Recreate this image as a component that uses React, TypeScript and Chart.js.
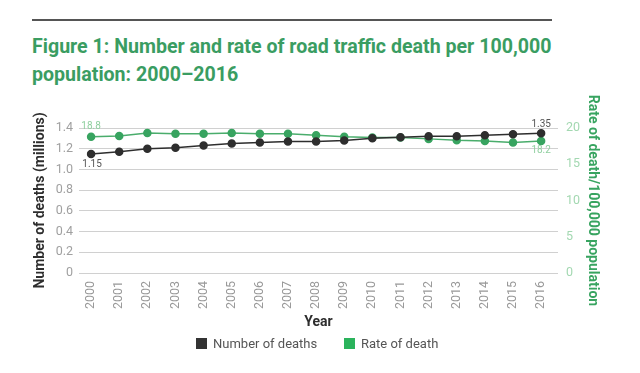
import React, { useEffect, useRef } from "react";
import { Chart, registerables } from "chart.js";

Chart.register(...registerables);

const years = [2000, 2001, 2002, 2003, 2004, 2005, 2006, 2007, 2008, 2009, 2010, 2011, 2012, 2013, 2014, 2015, 2016];
const deaths = [1.15, 1.17, 1.2, 1.21, 1.23, 1.25, 1.26, 1.27, 1.27, 1.28, 1.3, 1.31, 1.32, 1.32, 1.33, 1.34, 1.35];
const rates = [18.8, 18.9, 19.3, 19.2, 19.2, 19.3, 19.2, 19.2, 19.0, 18.8, 18.7, 18.7, 18.5, 18.3, 18.2, 18.0, 18.2];
const leftTicks = [0, 0.2, 0.4, 0.6, 0.8, 1.0, 1.2, 1.4];
const rightTicks = [0, 5, 10, 15, 20];
const legendItems = ["Number of deaths", "Rate of death"];

const DARK = "#2e2e2e";
const GREEN = "#38a460";
const LEGEND_COLORS = ["#333333", "#2bb35c"];

const labelPlugin = {
  id: "endLabels",
  afterDatasetsDraw(chart: any) {
    const ctx = chart.ctx;
    const x = chart.scales.x;
    const yl = chart.scales.y;
    const yr = chart.scales.y1;
    const n = years.length - 1;
    ctx.save();
    ctx.font = "10px Roboto";
    ctx.textAlign = "center";
    ctx.textBaseline = "middle";
    ctx.fillStyle = "#8fcf9f";
    ctx.fillText(rates[0].toFixed(1), x.getPixelForValue(years[0]), yr.getPixelForValue(rates[0]) - 10);
    ctx.fillText(rates[n].toFixed(1), x.getPixelForValue(years[n]), yr.getPixelForValue(rates[n]) + 9);
    ctx.fillStyle = "#555";
    ctx.fillText(deaths[0].toFixed(2), x.getPixelForValue(years[0]) + 1, yl.getPixelForValue(deaths[0]) + 11);
    ctx.fillText(deaths[n].toFixed(2), x.getPixelForValue(years[n]), yl.getPixelForValue(deaths[n]) - 9);
    ctx.restore();
  },
};

export default function App() {
  const ref = useRef<HTMLCanvasElement>(null);
  useEffect(() => {
    document.body.style.margin = "0";
    const chart = new Chart(ref.current!, {
      type: "line",
      data: {
        datasets: [
          {
            label: legendItems[0],
            data: years.map((y, i) => ({ x: y, y: deaths[i] })),
            borderColor: DARK,
            backgroundColor: DARK,
            pointBackgroundColor: DARK,
            pointBorderColor: DARK,
            borderWidth: 1.5,
            pointRadius: 3.5,
            yAxisID: "y",
          },
          {
            label: legendItems[1],
            data: years.map((y, i) => ({ x: y, y: rates[i] })),
            borderColor: "#4aad6c",
            backgroundColor: GREEN,
            pointBackgroundColor: GREEN,
            pointBorderColor: GREEN,
            borderWidth: 1.5,
            pointRadius: 3.5,
            yAxisID: "y1",
          },
        ],
      },
      options: {
        responsive: false,
        animation: false,
        layout: { padding: { left: 32, right: 39, top: 128, bottom: 42 } },
        plugins: {
          legend: { display: false },
          tooltip: { enabled: false },
        },
        scales: {
          x: {
            type: "linear",
            min: 1999.57,
            max: 2016.6,
            grid: { display: false, drawTicks: false },
            border: { display: false },
            afterBuildTicks: (axis: any) => {
              axis.ticks = years.map((v) => ({ value: v }));
            },
            afterFit: (axis: any) => {
              axis.height = 58;
            },
            ticks: {
              minRotation: 90,
              maxRotation: 90,
              color: "#999999",
              font: { family: "Roboto", size: 12.5, weight: "normal" },
              padding: 8,
              callback: (v: any) => String(v),
            },
            title: {
              display: true,
              text: "Year",
              color: DARK,
              font: { family: "Roboto", size: 14, weight: "bold" },
              padding: { top: 0, bottom: 0 },
            },
          },
          y: {
            position: "left",
            min: 0,
            max: 1.4,
            afterBuildTicks: (axis: any) => {
              axis.ticks = leftTicks.map((v) => ({ value: v }));
            },
            afterFit: (axis: any) => {
              axis.width = 47;
            },
            grid: { color: "#d0d0d0", drawTicks: false, lineWidth: 1 },
            border: { display: false },
            ticks: {
              color: "#a0a0a0",
              font: { family: "Roboto", size: 12.5, weight: "normal" },
              padding: 6,
              callback: (v: any) => (v === 0 ? "0" : Number(v).toFixed(1)),
            },
            title: {
              display: true,
              text: "Number of deaths (millions)",
              color: DARK,
              font: { family: "Roboto", size: 14, weight: "bold" },
              padding: 0,
            },
          },
          y1: {
            position: "right",
            min: 0,
            max: 20,
            afterBuildTicks: (axis: any) => {
              axis.ticks = rightTicks.map((v) => ({ value: v }));
            },
            afterFit: (axis: any) => {
              axis.width = 43;
            },
            grid: { display: false, drawOnChartArea: false, drawTicks: false },
            border: { display: false },
            ticks: {
              color: "#a3d8b1",
              font: { family: "Roboto", size: 12.5, weight: "normal" },
              padding: 8,
            },
            title: {
              display: true,
              text: "Rate of death/100,000 population",
              color: GREEN,
              font: { family: "Roboto", size: 14, weight: "bold" },
              padding: 0,
            },
          },
        },
      },
      plugins: [labelPlugin],
    });
    return () => chart.destroy();
  }, []);

  const legendLeft = [196, 344];
  return (
    <div style={{ position: "relative", width: 640, height: 373, background: "#fff", overflow: "hidden" }}>
      <div style={{ position: "absolute", left: 32, top: 19, width: 520, height: 2, background: "#555" }} />
      <div
        style={{
          position: "absolute",
          left: 32,
          top: 33,
          fontFamily: "Roboto",
          fontWeight: 700,
          fontSize: 19.6,
          lineHeight: "28px",
          color: "#3a9d62",
          whiteSpace: "nowrap",
        }}
      >
        Figure 1: Number and rate of road traffic death per 100,000
        <br />
        population: 2000–2016
      </div>
      <canvas ref={ref} width={640} height={373} style={{ position: "absolute", left: 0, top: 0 }} />
      {legendItems.map((name, i) => (
        <div
          key={name}
          style={{
            position: "absolute",
            left: legendLeft[i],
            top: 335,
            height: 16,
            display: "flex",
            alignItems: "center",
            fontFamily: "Roboto",
            fontSize: 13,
            color: "#555",
            whiteSpace: "nowrap",
          }}
        >
          <span style={{ display: "inline-block", width: 11, height: 11, background: LEGEND_COLORS[i], marginRight: 6 }} />
          {name}
        </div>
      ))}
    </div>
  );
}
